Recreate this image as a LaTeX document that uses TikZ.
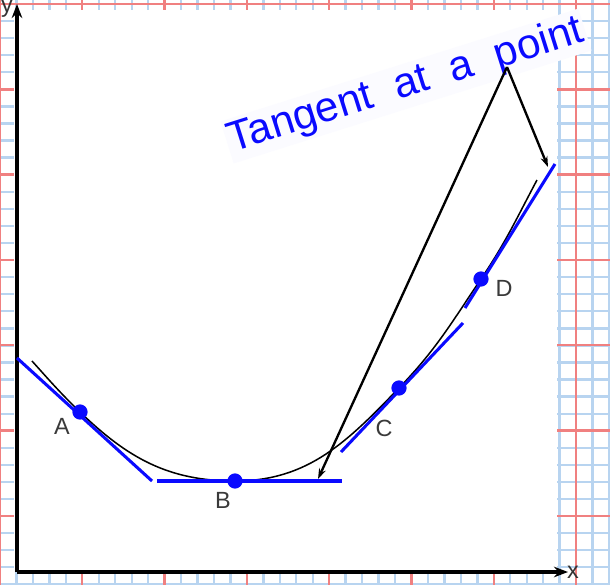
\documentclass[tikz,border=0pt]{standalone}
\usepackage{fontspec}
\setmainfont{Liberation Sans}
\usetikzlibrary{arrows, arrows.meta, positioning, backgrounds}
\definecolor{gridblue}{HTML}{B8D4F0}
\definecolor{gridred}{HTML}{F08080}
\definecolor{tanblue}{HTML}{0A0AFF}
\definecolor{labelgray}{HTML}{3A3A3A}

\begin{document}
\begin{tikzpicture}[x=0.03cm, y=-0.03cm,
  minor/.style={draw=gridblue, line width=2pt},
  major/.style={draw=gridred, line width=2pt},
  axis/.style={-{Stealth[length=12pt, width=9pt]}, line width=3pt},
  tangent/.style={draw=tanblue, line width=2.6pt},
  curve/.style={draw=black, line width=1.3pt},
  dot/.style={circle, fill=tanblue, inner sep=0pt, minimum size=13pt},
  lbl/.style={text=labelgray, font=\fontsize{20}{20}\selectfont},
  pointer/.style={-{Stealth[length=9pt, width=6pt]}, line width=2pt}
]
\useasboundingbox (0,0) rectangle (610,585);

% Punkty styczności
\node[dot] (A) at (80,412) {};
\node[dot] (B) at (235,481) {};
\node[dot] (C) at (399,388) {};
\node[dot] (D) at (481,279) {};
\node[lbl] (labA) at (62,426) {A};
\node[lbl] (labB) at (223,500) {B};
\node[lbl] (labC) at (384,428) {C};
\node[lbl] (labD) at (504,288) {D};

% Końce stycznych
\coordinate (a1) at (17,358);
\coordinate (a2) at (152,481);
\coordinate (b1) at (157,481);
\coordinate (b2) at (342,481);
\coordinate (c1) at (341,452);
\coordinate (c2) at (463,323);
\coordinate (d1) at (465,308);
\coordinate (d2) at (555,164);
\coordinate (start) at (32,361);
\coordinate (end) at (537,180);

% Opis
\node[text=tanblue, fill=blue!1.5, rotate=17.5, inner sep=2pt,
  font=\fontsize{36}{36}\selectfont] (title) at (406,86) {Tangent~~at~~a~~point};
\coordinate (apex) at (507,67);
\coordinate (tipB) at (318,479);
\coordinate (tipD) at (548,167);
\draw[pointer] (apex) -- (tipB);
\draw[pointer] (apex) -- (tipD);

\begin{pgfonlayer}{background}
% Papier w kratkę
\foreach \i in {0,...,37} \draw[minor] (\i*16.46,0) -- (\i*16.46,585);
\foreach \i in {0,...,34} \draw[minor] (0,4+\i*17.07) -- (610,4+\i*17.07);
\foreach \i in {0,...,7} \draw[major] (\i*82.3,0) -- (\i*82.3,585);
\foreach \i in {0,...,6} \draw[major] (0,4+\i*85.33) -- (610,4+\i*85.33);
\fill[white] (14,10) rectangle (557,572);

% Osie
\coordinate (o) at (17,572);
\coordinate (ytop) at (17,4);
\coordinate (xend) at (568,572);
\draw[axis] (o) -- (ytop);
\draw[axis] (o) -- (xend);
\node[lbl, text=black!80] (ylab) at (7,9) {y};
\node[lbl, text=black!80] (xlab) at (573,572) {x};

% Krzywa
\draw[curve] (start) to[out=-48, in=136] (A.center)
  to[out=-44, in=180] (B.center)
  to[out=0, in=226] (C.center)
  to[out=46, in=236] (D.center)
  to[out=56, in=242] (end);

% Styczne
\draw[tangent] (a1) -- (a2);
\draw[tangent] (b1) -- (b2);
\draw[tangent] (c1) -- (c2);
\draw[tangent] (d1) -- (d2);
\end{pgfonlayer}
\end{tikzpicture}
\end{document}
